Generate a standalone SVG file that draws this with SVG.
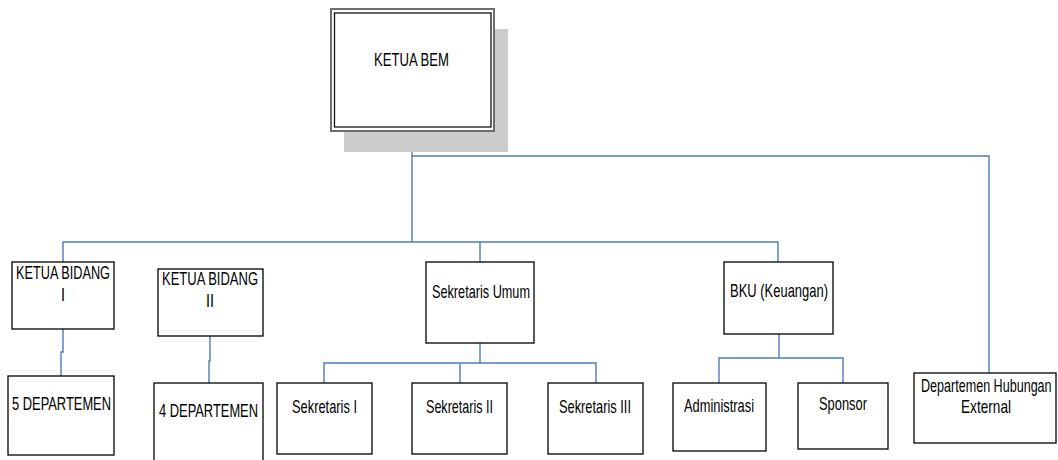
<svg xmlns="http://www.w3.org/2000/svg" width="1058" height="460" viewBox="0 0 1058 460">
  <style>
    .box { fill: #ffffff; stroke: #000000; stroke-width: 1.3; }
    .lbl { font-family: "Liberation Sans", Arial, sans-serif; font-size: 18.5px; fill: #000000; }
    .c { fill: none; stroke: #4a7ebb; stroke-width: 1.4; }
  </style>
  <rect width="1058" height="460" fill="#ffffff"/>

  <!-- connectors -->
  <g id="connectors">
    <path class="c" d="M412 131 V242"/>
    <path class="c" d="M63 262 V242 H778 V262"/>
    <path class="c" d="M480 242 V262"/>
    <path class="c" d="M412 156 H989 V373"/>
    <path class="c" d="M63 329 V352 H61 V376"/>
    <path class="c" d="M210 336 V361 H209 V383"/>
    <path class="c" d="M480 343 V363"/>
    <path class="c" d="M324 383 V363 H596 V383"/>
    <path class="c" d="M460 363 V383"/>
    <path class="c" d="M779 334 V358"/>
    <path class="c" d="M719 383 V358 H843 V383"/>
  </g>

  <!-- top node with drop shadow and double border -->
  <g id="ketua-bem">
    <rect x="344" y="29" width="164" height="123" fill="#cccccc"/>
    <rect x="331" y="9" width="163" height="122" fill="#ffffff" stroke="#6e6e6e" stroke-width="2"/>
    <rect x="334.5" y="13" width="156.5" height="114" fill="none" stroke="#111111" stroke-width="1.3"/>
    <text class="lbl" x="374" y="66" textLength="75" lengthAdjust="spacingAndGlyphs">KETUA BEM</text>
  </g>

  <g id="ketua-bidang-1">
    <rect class="box" x="12" y="262" width="102" height="67"/>
    <text class="lbl" x="16" y="279" textLength="94" lengthAdjust="spacingAndGlyphs">KETUA BIDANG</text>
    <text class="lbl" x="61" y="301" textLength="4" lengthAdjust="spacingAndGlyphs">I</text>
  </g>

  <g id="ketua-bidang-2">
    <rect class="box" x="158" y="269" width="105" height="67"/>
    <text class="lbl" x="162" y="285" textLength="96" lengthAdjust="spacingAndGlyphs">KETUA BIDANG</text>
    <text class="lbl" x="206" y="307" textLength="8" lengthAdjust="spacingAndGlyphs">II</text>
  </g>

  <g id="departemen-5">
    <rect class="box" x="8" y="376" width="106" height="79"/>
    <text class="lbl" x="12" y="410" textLength="99" lengthAdjust="spacingAndGlyphs">5 DEPARTEMEN</text>
  </g>

  <g id="departemen-4">
    <rect class="box" x="154" y="383" width="109" height="90"/>
    <text class="lbl" x="159" y="417" textLength="99" lengthAdjust="spacingAndGlyphs">4 DEPARTEMEN</text>
  </g>

  <g id="sekretaris-umum">
    <rect class="box" x="426" y="262" width="108" height="81"/>
    <text class="lbl" x="432" y="298" textLength="98" lengthAdjust="spacingAndGlyphs">Sekretaris Umum</text>
  </g>

  <g id="sekretaris-1">
    <rect class="box" x="277" y="383" width="95" height="71"/>
    <text class="lbl" x="292" y="413" textLength="65" lengthAdjust="spacingAndGlyphs">Sekretaris I</text>
  </g>

  <g id="sekretaris-2">
    <rect class="box" x="412" y="383" width="95" height="71"/>
    <text class="lbl" x="426" y="413" textLength="67" lengthAdjust="spacingAndGlyphs">Sekretaris II</text>
  </g>

  <g id="sekretaris-3">
    <rect class="box" x="548" y="383" width="95" height="71"/>
    <text class="lbl" x="559" y="413" textLength="72" lengthAdjust="spacingAndGlyphs">Sekretaris III</text>
  </g>

  <g id="bku">
    <rect class="box" x="724" y="262" width="109" height="72"/>
    <text class="lbl" x="730" y="297" textLength="98" lengthAdjust="spacingAndGlyphs">BKU (Keuangan)</text>
  </g>

  <g id="administrasi">
    <rect class="box" x="673" y="383" width="93" height="68"/>
    <text class="lbl" x="684" y="412" textLength="70" lengthAdjust="spacingAndGlyphs">Administrasi</text>
  </g>

  <g id="sponsor">
    <rect class="box" x="798" y="383" width="90" height="66"/>
    <text class="lbl" x="819" y="410" textLength="48" lengthAdjust="spacingAndGlyphs">Sponsor</text>
  </g>

  <g id="departemen-hubungan-external">
    <rect class="box" x="914" y="373" width="142" height="70"/>
    <!-- condensed horizontally so the long label stays inside the box -->
    <text class="lbl" transform="translate(921 392) scale(0.68 1)">Departemen Hubungan</text>
    <text class="lbl" x="961" y="413" textLength="50" lengthAdjust="spacingAndGlyphs">External</text>
  </g>
</svg>
